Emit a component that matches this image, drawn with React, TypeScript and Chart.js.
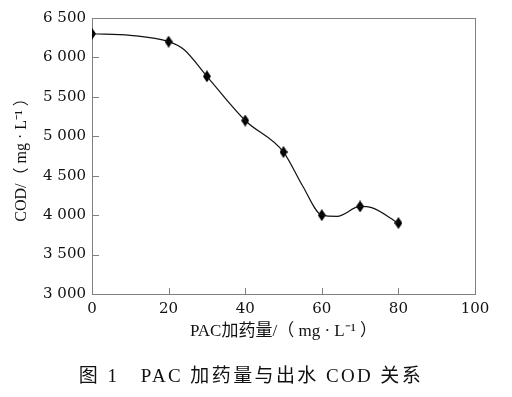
import { useEffect, useRef } from "react";
import { Chart, registerables } from "chart.js";

Chart.register(...registerables);

// Measured points (PAC dose, effluent COD)
const doseMarkers = [0, 20, 30, 40, 50, 60, 70, 80];
const codMarkers = [6300, 6200, 5760, 5200, 4800, 4000, 4110, 3900];

// Points
const curveDose = [0, 10, 20, 24, 30, 40, 50, 55, 60, 64, 70, 73, 80];
const curveCod = [6300, 6280, 6200, 6100, 5760, 5200, 4800, 4370, 4000, 3985, 4110, 4095, 3900];

const xTicks = [0, 20, 40, 60, 80, 100];
const yTicks = [3000, 3500, 4000, 4500, 5000, 5500, 6000, 6500];

const xTitle = "PAC加药量/（ mg · L⁻¹ ）";
const yTitle = "COD/（ mg · L⁻¹ ）";
const caption = "图 1   PAC 加药量与出水 COD 关系";

const FRAME = "#808080";
const SERIF = "'DejaVu Serif', serif";
const TITLE_FONT = "'Liberation Serif', 'Noto Sans CJK SC', serif";

function fmt(v: number): string {
  const th = Math.floor(v / 1000);
  const rest = String(v % 1000).padStart(3, "0");
  return `${th} ${rest}`;
}

function makeDiamond(): HTMLCanvasElement {
  const c = document.createElement("canvas");
  c.width = 8;
  c.height = 12;
  const g = c.getContext("2d")!;
  g.fillStyle = "#000";
  g.beginPath();
  g.moveTo(4, 0);
  g.lineTo(8, 6);
  g.lineTo(4, 12);
  g.lineTo(0, 6);
  g.closePath();
  g.fill();
  return c;
}

const framePlugin = {
  id: "frameTicks",
  beforeDatasetsDraw(chart: any) {
    const { ctx, chartArea } = chart;
    const xs = chart.scales.x;
    const ys = chart.scales.y;
    ctx.save();
    ctx.strokeStyle = FRAME;
    ctx.lineWidth = 1;
    ctx.strokeRect(
      Math.round(chartArea.left) + 0.5,
      Math.round(chartArea.top) + 0.5,
      Math.round(chartArea.right - chartArea.left),
      Math.round(chartArea.bottom - chartArea.top)
    );
    ctx.beginPath();
    for (const v of xTicks) {
      if (v === xTicks[0] || v === xTicks[xTicks.length - 1]) continue;
      const px = Math.round(xs.getPixelForValue(v)) + 0.5;
      ctx.moveTo(px, chartArea.bottom);
      ctx.lineTo(px, chartArea.bottom - 6);
    }
    for (const v of yTicks) {
      if (v === yTicks[0] || v === yTicks[yTicks.length - 1]) continue;
      const py = Math.round(ys.getPixelForValue(v)) + 0.5;
      ctx.moveTo(chartArea.left, py);
      ctx.lineTo(chartArea.left + 7, py);
    }
    ctx.stroke();
    ctx.restore();
  },
  afterDraw(chart: any) {
    const { ctx } = chart;
    ctx.save();
    ctx.fillStyle = "#111";
    ctx.font = `19px ${TITLE_FONT}`;
    ctx.textAlign = "center";
    ctx.textBaseline = "middle";
    try {
      (ctx as any).letterSpacing = "2.4px";
    } catch (e) {
      /* ignore */
    }
    ctx.fillText(caption, 251, 377);
    ctx.restore();
  },
};

export default function App() {
  const ref = useRef<HTMLCanvasElement | null>(null);

  useEffect(() => {
    if (!ref.current) return;
    const diamond = makeDiamond();
    const chart = new Chart(ref.current, {
      type: "line",
      data: {
        datasets: [
          {
            label: "curve",
            data: curveDose.map((x, i) => ({ x, y: curveCod[i] })),
            borderColor: "#111",
            borderWidth: 1.2,
            pointRadius: 0,
            cubicInterpolationMode: "monotone",
            fill: false,
          },
          {
            label: "COD",
            data: doseMarkers.map((x, i) => ({ x, y: codMarkers[i] })),
            showLine: false,
            pointStyle: diamond as any,
            pointRadius: 5,
            borderColor: "#000",
            backgroundColor: "#000",
          },
        ],
      },
      options: {
        animation: false,
        responsive: false,
        maintainAspectRatio: false,
        layout: { padding: { left: 0, right: 37, top: 18, bottom: 32 } },
        plugins: {
          legend: { display: false },
          tooltip: { enabled: false },
          title: { display: false },
        },
        scales: {
          x: {
            type: "linear",
            min: 0,
            max: 100,
            afterBuildTicks: (s: any) => {
              s.ticks = xTicks.map((v) => ({ value: v }));
            },
            afterFit: (s: any) => {
              s.height = 71;
            },
            grid: { display: false, drawTicks: false },
            border: { display: false },
            ticks: {
              color: "#111",
              font: { family: SERIF, size: 15 },
              padding: 6,
              maxRotation: 0,
              autoSkip: false,
            },
            title: {
              display: true,
              text: xTitle,
              color: "#111",
              font: { family: TITLE_FONT, size: 17, lineHeight: 1.2 },
              padding: { top: 0, bottom: 23 },
            },
          },
          y: {
            type: "linear",
            min: 3000,
            max: 6500,
            afterBuildTicks: (s: any) => {
              s.ticks = yTicks.map((v) => ({ value: v }));
            },
            afterFit: (s: any) => {
              s.width = 92;
            },
            grid: { display: false, drawTicks: false },
            border: { display: false },
            ticks: {
              color: "#111",
              font: { family: SERIF, size: 15 },
              padding: 6,
              autoSkip: false,
              callback: (v: any) => fmt(Number(v)),
            },
            title: {
              display: true,
              text: yTitle,
              color: "#111",
              font: { family: TITLE_FONT, size: 16, lineHeight: 1.2 },
              padding: { top: 12, bottom: 0 },
            },
          },
        },
      },
      plugins: [framePlugin],
    });
    return () => chart.destroy();
  }, []);

  return (
    <div style={{ position: "absolute", left: 0, top: 0, width: 512, height: 397, background: "#fff" }}>
      <canvas ref={ref} width={512} height={397} style={{ width: 512, height: 397, display: "block" }} />
    </div>
  );
}
